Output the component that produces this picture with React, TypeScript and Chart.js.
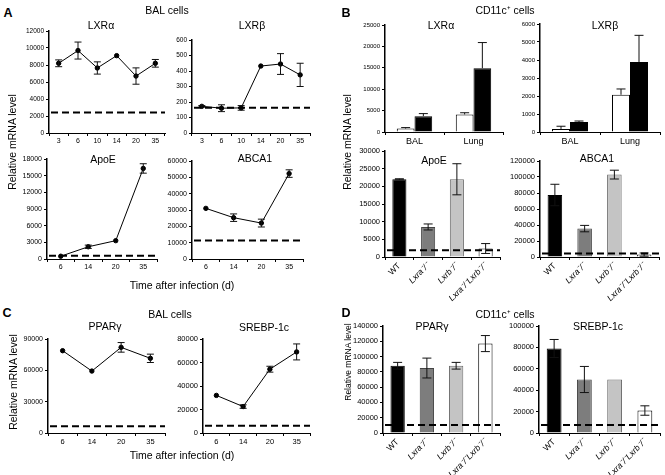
import React, { useEffect, useRef } from 'react';
import { Chart, registerables } from 'chart.js';
Chart.register(...registerables);

const FONT = 'Arial, "Liberation Sans", Helvetica, sans-serif';

// ---------- Panel A (BAL cells, time course) ----------
const timeA1 = ['3', '6', '10', '14', '20', '35'];
const lxraA = [8200, 9700, 7650, 9100, 6700, 8200];
const lxraAErr = [400, 1000, 720, 0, 960, 450];
const lxraABase = 2400;
const lxrbA = [172, 160, 162, 432, 445, 375];
const lxrbAErr = [5, 22, 15, 0, 67, 75];
const lxrbABase = 163;
const timeA2 = ['6', '14', '20', '35'];
const apoeA = [500, 2200, 3300, 16300];
const apoeAErr = [0, 300, 0, 850];
const apoeABase = 600;
const abca1A = [31000, 25300, 22000, 52300];
const abca1AErr = [0, 2300, 2400, 2300];
const abca1ABase = 11400;

// ---------- Panel B (CD11c+ cells) ----------
const tissues = ['BAL', 'Lung'];
const lxraBWhite = [800, 4100];
const lxraBWhiteErr = [230, 400];
const lxraBBlack = [3700, 14900];
const lxraBBlackErr = [600, 6000];
const lxrbBWhite = [170, 2070];
const lxrbBWhiteErr = [150, 320];
const lxrbBBlack = [560, 3890];
const lxrbBBlackErr = [50, 1480];
const genotypes = ['WT', 'Lxra\u207B/\u207B', 'Lxrb\u207B/\u207B', 'Lxra\u207B/\u207BLxrb\u207B/\u207B'];
const apoeB = [22000, 8500, 22000, 2400];
const apoeBErr = [150, 850, 4400, 1400];
const apoeBBase = 1900;
const abca1B = [77500, 35500, 103000, 3000];
const abca1BErr = [13400, 4000, 5500, 2000];
const abca1BBase = 4500;

// ---------- Panel C (BAL cells, time course) ----------
const timeC = ['6', '14', '20', '35'];
const ppargC = [78800, 59300, 82000, 71500];
const ppargCErr = [0, 0, 4600, 4000];
const ppargCBase = 6400;
const srebpC = [32000, 22500, 54300, 69000];
const srebpCErr = [0, 1500, 2500, 6800];
const srebpCBase = 6100;

// ---------- Panel D (CD11c+ cells) ----------
const ppargD = [88000, 85000, 88000, 117000];
const ppargDErr = [4400, 13000, 4400, 10500];
const ppargDBase = 10500;
const srebpD = [79000, 50000, 50000, 21000];
const srebpDErr = [8400, 12200, 0, 4400];
const srebpDBase = 7500;

const genoFill = ['#000000', '#7d7d7d', '#c4c4c4', '#ffffff'];
const genoBorder = ['#000000', '#444444', '#6a6a6a', '#000000'];

const YW = 40;
const PT = 6;
const PR = 2;

const errorBars = {
  id: 'errorBars',
  afterDatasetsDraw(chart: any) {
    const ctx = chart.ctx;
    const ys = chart.scales.y;
    chart.data.datasets.forEach((ds: any, di: number) => {
      if (!ds.errors) return;
      const meta = chart.getDatasetMeta(di);
      const cap = ds.cap || 4;
      meta.data.forEach((el: any, i: number) => {
        const e = ds.errors[i];
        if (!e) return;
        const v = ds.data[i];
        const x = el.x;
        const yT = ys.getPixelForValue(v + e);
        const yB = ds.errorMode === 'up' ? ys.getPixelForValue(v) : ys.getPixelForValue(Math.max(v - e, 0));
        ctx.save();
        ctx.strokeStyle = '#111';
        ctx.lineWidth = 1;
        ctx.beginPath();
        ctx.moveTo(x, yT);
        ctx.lineTo(x, yB);
        ctx.moveTo(x - cap, yT);
        ctx.lineTo(x + cap, yT);
        if (ds.errorMode !== 'up') {
          ctx.moveTo(x - cap, yB);
          ctx.lineTo(x + cap, yB);
        }
        ctx.stroke();
        ctx.restore();
      });
    });
  },
};

function makeRefLine(base: number | null) {
  return {
    id: 'refLine',
    afterDatasetsDraw(chart: any) {
      if (base == null) return;
      const ctx = chart.ctx;
      const y = chart.scales.y.getPixelForValue(base);
      const { left, right } = chart.chartArea;
      ctx.save();
      ctx.setLineDash([7, 4]);
      ctx.lineWidth = 2;
      ctx.strokeStyle = '#000';
      ctx.beginPath();
      ctx.moveTo(left + 2, y);
      ctx.lineTo(right, y);
      ctx.stroke();
      ctx.restore();
    },
  };
}

type Spec = {
  id: string;
  kind: 'line' | 'bar';
  left: number;
  top: number;
  bottom: number;
  right: number;
  labels: string[];
  datasets: any[];
  yMax: number;
  yStep: number;
  base: number | null;
  tf: number;
  xf: number;
  xh: number;
  rotate?: boolean;
};

const lineDs = (data: number[], errors: number[]) => ({
  data,
  errors,
  cap: 3.5,
  borderColor: '#000',
  borderWidth: 1,
  pointRadius: 2.2,
  pointBackgroundColor: '#000',
  pointBorderColor: '#000',
  tension: 0,
});

const pairDs = (data: number[], errors: number[], fill: string) => ({
  data,
  errors,
  errorMode: 'up',
  cap: 4.5,
  backgroundColor: fill,
  borderColor: '#000',
  borderWidth: 1,
  barPercentage: 1,
  categoryPercentage: 0.6,
});

const genoDs = (data: number[], errors: number[]) => ({
  data,
  errors,
  cap: 4.5,
  backgroundColor: genoFill,
  borderColor: genoBorder,
  borderWidth: 1,
  barPercentage: 0.49,
  categoryPercentage: 1,
});

const specs: Spec[] = [
  { id: 'a1', kind: 'line', left: 49, top: 31, bottom: 133, right: 168, labels: timeA1, datasets: [lineDs(lxraA, lxraAErr)], yMax: 12000, yStep: 2000, base: lxraABase, tf: 6.5, xf: 7, xh: 14 },
  { id: 'a2', kind: 'line', left: 192, top: 40, bottom: 133, right: 313, labels: timeA1, datasets: [lineDs(lxrbA, lxrbAErr)], yMax: 600, yStep: 100, base: lxrbABase, tf: 6.5, xf: 7, xh: 14 },
  { id: 'a3', kind: 'line', left: 47, top: 159, bottom: 259, right: 160, labels: timeA2, datasets: [lineDs(apoeA, apoeAErr)], yMax: 18000, yStep: 3000, base: apoeABase, tf: 7, xf: 7, xh: 14 },
  { id: 'a4', kind: 'line', left: 192, top: 161, bottom: 259, right: 306, labels: timeA2, datasets: [lineDs(abca1A, abca1AErr)], yMax: 60000, yStep: 10000, base: abca1ABase, tf: 7, xf: 7, xh: 14 },
  { id: 'b1', kind: 'bar', left: 385, top: 25, bottom: 132, right: 503, labels: tissues, datasets: [pairDs(lxraBWhite, lxraBWhiteErr, '#ffffff'), pairDs(lxraBBlack, lxraBBlackErr, '#000000')], yMax: 25000, yStep: 5000, base: null, tf: 6, xf: 9, xh: 16 },
  { id: 'b2', kind: 'bar', left: 540, top: 24, bottom: 132, right: 660, labels: tissues, datasets: [pairDs(lxrbBWhite, lxrbBWhiteErr, '#ffffff'), pairDs(lxrbBBlack, lxrbBBlackErr, '#000000')], yMax: 6000, yStep: 1000, base: null, tf: 6, xf: 9, xh: 16 },
  { id: 'b3', kind: 'bar', left: 385, top: 151, bottom: 257, right: 500, labels: genotypes, datasets: [genoDs(apoeB, apoeBErr)], yMax: 30000, yStep: 5000, base: apoeBBase, tf: 7.5, xf: 8.5, xh: 48, rotate: true },
  { id: 'b4', kind: 'bar', left: 540, top: 161, bottom: 257, right: 659, labels: genotypes, datasets: [genoDs(abca1B, abca1BErr)], yMax: 120000, yStep: 20000, base: abca1BBase, tf: 7.5, xf: 8.5, xh: 48, rotate: true },
  { id: 'c1', kind: 'line', left: 48, top: 339, bottom: 433, right: 168, labels: timeC, datasets: [lineDs(ppargC, ppargCErr)], yMax: 90000, yStep: 30000, base: ppargCBase, tf: 7, xf: 7.5, xh: 14 },
  { id: 'c2', kind: 'line', left: 203, top: 339, bottom: 433, right: 313, labels: timeC, datasets: [lineDs(srebpC, srebpCErr)], yMax: 80000, yStep: 20000, base: srebpCBase, tf: 7.5, xf: 7.5, xh: 14 },
  { id: 'd1', kind: 'bar', left: 383, top: 326, bottom: 433, right: 500, labels: genotypes, datasets: [genoDs(ppargD, ppargDErr)], yMax: 140000, yStep: 20000, base: ppargDBase, tf: 7.5, xf: 8.5, xh: 42, rotate: true },
  { id: 'd2', kind: 'bar', left: 539, top: 326, bottom: 433, right: 660, labels: genotypes, datasets: [genoDs(srebpD, srebpDErr)], yMax: 100000, yStep: 20000, base: srebpDBase, tf: 7.5, xf: 8.5, xh: 42, rotate: true },
];

function boxOf(s: Spec) {
  const x = s.left - YW;
  const y = s.top - PT;
  return { x, y, w: s.right - x + PR, h: s.bottom - y + s.xh };
}

function buildConfig(s: Spec): any {
  return {
    type: s.kind,
    data: { labels: s.labels, datasets: s.datasets },
    options: {
      responsive: false,
      maintainAspectRatio: false,
      animation: false,
      devicePixelRatio: 1,
      layout: { padding: { top: PT, right: PR, left: 0, bottom: 0 } },
      plugins: { legend: { display: false }, tooltip: { enabled: false }, title: { display: false } },
      scales: {
        x: {
          type: 'category',
          offset: true,
          grid: { display: true, drawOnChartArea: false, drawTicks: true, tickLength: 3, color: '#000', offset: true, lineWidth: 1 },
          border: { display: true, color: '#000', width: 1 },
          ticks: {
            color: '#000',
            autoSkip: false,
            padding: 1,
            maxRotation: s.rotate ? 45 : 0,
            minRotation: s.rotate ? 45 : 0,
            font: s.rotate
              ? (c: any) => ({ size: s.xf, family: FONT, style: c.index === 0 ? 'normal' : 'italic' })
              : { size: s.xf, family: FONT },
          },
          afterFit: (sc: any) => {
            sc.height = s.xh;
            sc.paddingLeft = 0;
            sc.paddingRight = 0;
          },
        },
        y: {
          min: 0,
          max: s.yMax,
          grid: { display: true, drawOnChartArea: false, drawTicks: true, tickLength: 3, color: '#000', lineWidth: 1 },
          border: { display: true, color: '#000', width: 1.5 },
          ticks: {
            stepSize: s.yStep,
            color: '#000',
            padding: 2,
            font: { size: s.tf, family: FONT },
            callback: (v: any) => String(v),
          },
          afterFit: (sc: any) => {
            sc.width = YW;
            sc.paddingTop = 0;
            sc.paddingBottom = 0;
          },
        },
      },
    },
    plugins: [errorBars, makeRefLine(s.base)],
  };
}

function ChartBox({ spec }: { spec: Spec }) {
  const ref = useRef<HTMLCanvasElement | null>(null);
  const b = boxOf(spec);
  useEffect(() => {
    const chart = new Chart(ref.current as HTMLCanvasElement, buildConfig(spec));
    return () => chart.destroy();
  }, []);
  return (
    <canvas
      ref={ref}
      width={b.w}
      height={b.h}
      style={{ position: 'absolute', left: b.x, top: b.y, width: b.w, height: b.h }}
    />
  );
}

function Txt(props: { x: number; y: number; size: number; bold?: boolean; rot?: boolean; children: any }) {
  const { x, y, size, bold, rot, children } = props;
  return (
    <div
      style={{
        position: 'absolute',
        left: x,
        top: y,
        fontSize: size,
        fontWeight: bold ? 'bold' : 'normal',
        lineHeight: 1,
        whiteSpace: 'nowrap',
        transform: `translate(-50%, -50%)${rot ? ' rotate(-90deg)' : ''}`,
      }}
    >
      {children}
    </div>
  );
}

export default function App() {
  return (
    <div
      style={{
        position: 'fixed',
        left: 0,
        top: 0,
        width: 665,
        height: 475,
        background: '#fff',
        overflow: 'hidden',
        fontFamily: FONT,
        color: '#000',
      }}
    >
      {specs.map((s) => (
        <ChartBox key={s.id} spec={s} />
      ))}

      <Txt x={8} y={12.5} size={12.5} bold>A</Txt>
      <Txt x={346} y={12.5} size={12.5} bold>B</Txt>
      <Txt x={7} y={313} size={12.5} bold>C</Txt>
      <Txt x={346} y={313} size={12.5} bold>D</Txt>

      <Txt x={167} y={10} size={10.5}>BAL cells</Txt>
      <Txt x={505} y={10} size={10.5}>CD11c⁺ cells</Txt>
      <Txt x={170} y={314} size={10.5}>BAL cells</Txt>
      <Txt x={505} y={314} size={10.5}>CD11c⁺ cells</Txt>

      <Txt x={101} y={25} size={10.5}>LXRα</Txt>
      <Txt x={252} y={25} size={10.5}>LXRβ</Txt>
      <Txt x={103} y={159} size={10.5}>ApoE</Txt>
      <Txt x={255} y={158} size={10.5}>ABCA1</Txt>
      <Txt x={441} y={25} size={10.5}>LXRα</Txt>
      <Txt x={605} y={25} size={10.5}>LXRβ</Txt>
      <Txt x={434} y={160} size={10.5}>ApoE</Txt>
      <Txt x={597} y={158} size={10.5}>ABCA1</Txt>
      <Txt x={105} y={326} size={10.5}>PPARγ</Txt>
      <Txt x={264} y={327} size={10.5}>SREBP-1c</Txt>
      <Txt x={432} y={326} size={10.5}>PPARγ</Txt>
      <Txt x={598} y={326} size={10.5}>SREBP-1c</Txt>

      <Txt x={12} y={142} size={10.5} rot>Relative mRNA level</Txt>
      <Txt x={347} y={142} size={10.5} rot>Relative mRNA level</Txt>
      <Txt x={13} y={382} size={10.5} rot>Relative mRNA level</Txt>
      <Txt x={348} y={362} size={8.5} rot>Relative mRNA level</Txt>

      <Txt x={182} y={285} size={10.5}>Time after infection (d)</Txt>
      <Txt x={182} y={455} size={10.5}>Time after infection (d)</Txt>
    </div>
  );
}
